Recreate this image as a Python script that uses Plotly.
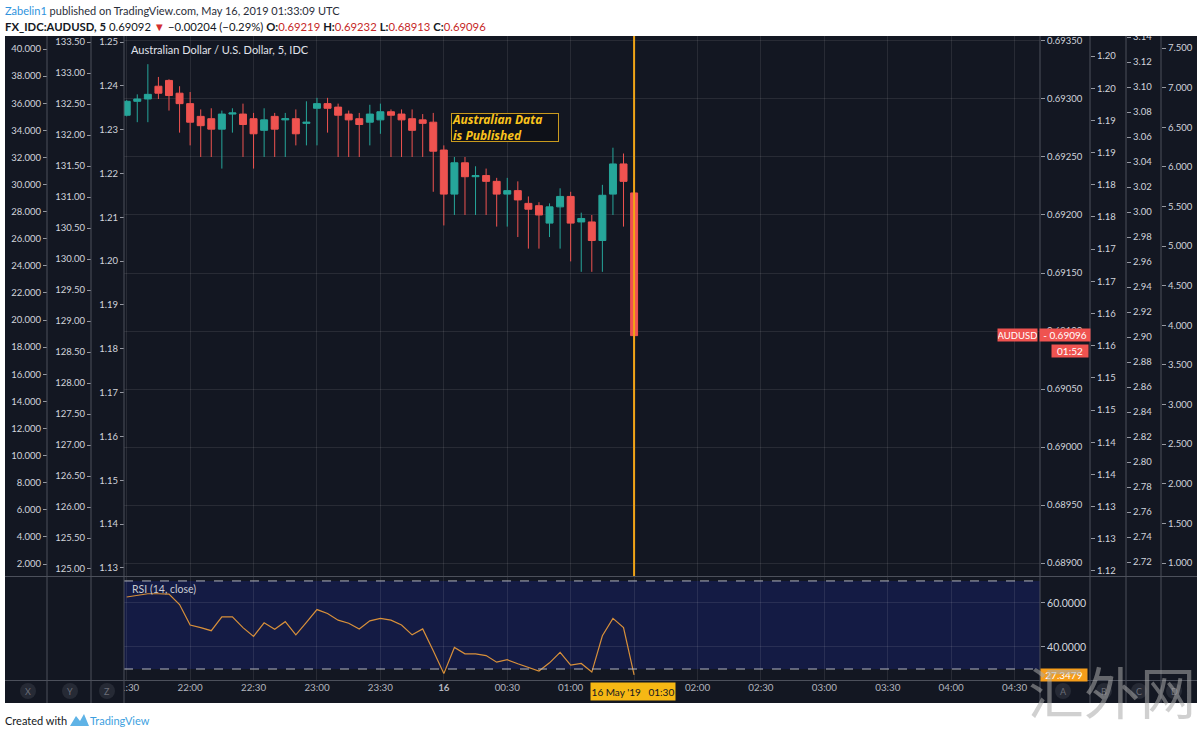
import plotly.graph_objects as go
import pandas as pd

W, H = 1199, 735


def px(x):
    return x / W


def py(y):
    return 1 - y / H


# ---------------- data ----------------
times = list(pd.date_range("2019-05-15 21:30", periods=49, freq="5min"))

opens = [0.69286, 0.69298, 0.69300, 0.69311, 0.69316, 0.69305, 0.69296, 0.69285, 0.69283, 0.69274,
         0.69287, 0.69287, 0.69283, 0.69273, 0.69285, 0.69282, 0.69283, 0.69279, 0.69292, 0.69296,
         0.69293, 0.69287, 0.69283, 0.69280, 0.69282, 0.69289, 0.69287, 0.69283, 0.69282, 0.69280,
         0.69256, 0.69218, 0.69245, 0.69233, 0.69234, 0.69229, 0.69218, 0.69221, 0.69210, 0.69208,
         0.69193, 0.69207, 0.69216, 0.69194, 0.69194, 0.69178, 0.69218, 0.69244, 0.69219]
highs = [0.69299, 0.69304, 0.69330, 0.69319, 0.69317, 0.69311, 0.69306, 0.69291, 0.69292, 0.69290,
         0.69292, 0.69296, 0.69288, 0.69292, 0.69288, 0.69288, 0.69291, 0.69298, 0.69301, 0.69301,
         0.69296, 0.69290, 0.69288, 0.69295, 0.69296, 0.69291, 0.69291, 0.69291, 0.69287, 0.69288,
         0.69260, 0.69250, 0.69250, 0.69242, 0.69240, 0.69232, 0.69232, 0.69229, 0.69216, 0.69211,
         0.69210, 0.69223, 0.69220, 0.69202, 0.69200, 0.69226, 0.69258, 0.69253, 0.69232]
lows = [0.69285, 0.69280, 0.69280, 0.69300, 0.69290, 0.69271, 0.69260, 0.69250, 0.69250, 0.69240,
        0.69271, 0.69250, 0.69240, 0.69250, 0.69250, 0.69250, 0.69260, 0.69260, 0.69260, 0.69271,
        0.69250, 0.69250, 0.69250, 0.69260, 0.69270, 0.69250, 0.69250, 0.69250, 0.69250, 0.69220,
        0.69191, 0.69200, 0.69200, 0.69200, 0.69200, 0.69190, 0.69190, 0.69181, 0.69171, 0.69171,
        0.69181, 0.69171, 0.69160, 0.69151, 0.69151, 0.69151, 0.69200, 0.69190, 0.68913]
closes = [0.69298, 0.69300, 0.69304, 0.69305, 0.69303, 0.69296, 0.69280, 0.69277, 0.69274, 0.69287,
          0.69288, 0.69278, 0.69270, 0.69282, 0.69274, 0.69283, 0.69270, 0.69280, 0.69296, 0.69292,
          0.69286, 0.69282, 0.69278, 0.69287, 0.69289, 0.69286, 0.69282, 0.69273, 0.69279, 0.69255,
          0.69218, 0.69245, 0.69233, 0.69234, 0.69229, 0.69218, 0.69221, 0.69213, 0.69205, 0.69200,
          0.69207, 0.69216, 0.69193, 0.69197, 0.69178, 0.69217, 0.69244, 0.69229, 0.69096]
rsi = [62.7, 63.5, 64.2, 64.2, 64.0, 59.3, 50.0, 48.8, 47.4, 53.7,
       53.7, 48.8, 44.8, 51.0, 48.1, 51.5, 45.5, 51.2, 57.0, 55.2,
       52.2, 50.8, 48.2, 51.9, 53.0, 52.2, 50.0, 45.5, 48.2, 38.3,
       27.9, 39.8, 36.9, 36.9, 36.1, 33.1, 34.2, 32.4, 30.6, 29.1,
       32.8, 37.6, 31.8, 32.5, 28.6, 45.1, 53.0, 48.8, 27.3479]

rsi_upper, rsi_lower = 70, 30
crosshair_time = "2019-05-16 01:30"

time_ticks = ["2019-05-15 21:30", "2019-05-15 22:00", "2019-05-15 22:30", "2019-05-15 23:00",
              "2019-05-15 23:30", "2019-05-16 00:00", "2019-05-16 00:30", "2019-05-16 01:00",
              "2019-05-16 01:30", "2019-05-16 02:00", "2019-05-16 02:30", "2019-05-16 03:00",
              "2019-05-16 03:30", "2019-05-16 04:00", "2019-05-16 04:30"]
time_labels = ["21:30", "22:00", "22:30", "23:00", "23:30", "<b>16</b>", "00:30", "01:00",
               "01:30", "02:00", "02:30", "03:00", "03:30", "04:00", "04:30"]
x_range = ["2019-05-15 21:28:43", "2019-05-16 04:42:00"]

price_ticks = [0.68900, 0.68950, 0.69000, 0.69050, 0.69100, 0.69150, 0.69200, 0.69250, 0.69300, 0.69350]
price_labels = ["0.68900", "0.68950", "0.69000", "0.69050", "0.69100", "0.69150", "0.69200",
                "0.69250", "0.69300", "0.69350"]
price_range = [0.688888, 0.693543]

rsi_ticks = [40, 60]
rsi_labels = ["40.0000", "60.0000"]
rsi_range = [25.0, 71.8]

a_ticks = [2, 4, 6, 8, 10, 12, 14, 16, 18, 20, 22, 24, 26, 28, 30, 32, 34, 36, 38, 40]
a_labels = ["2.000", "4.000", "6.000", "8.000", "10.000", "12.000", "14.000", "16.000", "18.000",
            "20.000", "22.000", "24.000", "26.000", "28.000", "30.000", "32.000", "34.000",
            "36.000", "38.000", "40.000"]
a_range = [1.1146, 40.959]

b_ticks = [125.0, 125.5, 126.0, 126.5, 127.0, 127.5, 128.0, 128.5, 129.0, 129.5, 130.0, 130.5,
           131.0, 131.5, 132.0, 132.5, 133.0, 133.5]
b_labels = ["125.00", "125.50", "126.00", "126.50", "127.00", "127.50", "128.00", "128.50",
            "129.00", "129.50", "130.00", "130.50", "131.00", "131.50", "132.00", "132.50",
            "133.00", "133.50"]
b_range = [124.887, 133.597]

c_ticks = [1.13, 1.14, 1.15, 1.16, 1.17, 1.18, 1.19, 1.20, 1.21, 1.22, 1.23, 1.24, 1.25]
c_labels = ["1.13", "1.14", "1.15", "1.16", "1.17", "1.18", "1.19", "1.20", "1.21", "1.22",
            "1.23", "1.24", "1.25"]
c_range = [1.12817, 1.25137]

e_ticks = [1.120, 1.125, 1.130, 1.135, 1.140, 1.145, 1.150, 1.155, 1.160, 1.165, 1.170, 1.175,
           1.180, 1.185, 1.190, 1.195, 1.200]
e_labels = ["1.12", "1.13", "1.13", "1.14", "1.14", "1.15", "1.15", "1.16", "1.16", "1.17",
            "1.17", "1.18", "1.18", "1.19", "1.19", "1.20", "1.20"]
e_range = [1.11922, 1.20311]

f_ticks = [2.72, 2.74, 2.76, 2.78, 2.80, 2.82, 2.84, 2.86, 2.88, 2.90, 2.92, 2.94, 2.96, 2.98,
           3.00, 3.02, 3.04, 3.06, 3.08, 3.10, 3.12, 3.14]
f_labels = ["2.72", "2.74", "2.76", "2.78", "2.80", "2.82", "2.84", "2.86", "2.88", "2.90",
            "2.92", "2.94", "2.96", "2.98", "3.00", "3.02", "3.04", "3.06", "3.08", "3.10",
            "3.12", "3.14"]
f_range = [2.7088, 3.1408]

g_ticks = [1.0, 1.5, 2.0, 2.5, 3.0, 3.5, 4.0, 4.5, 5.0, 5.5, 6.0, 6.5, 7.0, 7.5]
g_labels = ["1.000", "1.500", "2.000", "2.500", "3.000", "3.500", "4.000", "4.500", "5.000",
            "5.500", "6.000", "6.500", "7.000", "7.500"]
g_range = [0.8359, 7.6515]

# ---------------- style ----------------
BG = "#131722"
TEAL = "#26a69a"
RED = "#ef5350"
GRID = "rgba(255,255,255,0.09)"
SEP = "#4c505b"
TXT = "#d1d4dc"
FONT = "Lato, 'Noto Sans', sans-serif"
RSI_COLOR = "#d8903a"
CROSS = "#f0a417"
BAND = "#141b44"

fig = go.Figure()
fig.add_trace(go.Candlestick(
    x=times, open=opens, high=highs, low=lows, close=closes,
    increasing=dict(line=dict(color=TEAL, width=1), fillcolor=TEAL),
    decreasing=dict(line=dict(color=RED, width=1), fillcolor=RED),
    whiskerwidth=0, xaxis="x", yaxis="y", showlegend=False, hoverinfo="skip"))
fig.add_trace(go.Scatter(x=times, y=rsi, mode="lines", line=dict(color=RSI_COLOR, width=1.2),
                         xaxis="x2", yaxis="y2", showlegend=False, hoverinfo="skip"))
for ax in ["y3", "y4", "y5", "y6", "y7", "y8"]:
    fig.add_trace(go.Scatter(x=[], y=[], xaxis="x", yaxis=ax, showlegend=False, hoverinfo="skip"))

main_dom = [py(576), py(36)]
rsi_dom = [py(680), py(577)]
xdom = [px(124), px(1040)]
tickfont = dict(family=FONT, size=9.5, color=TXT)


def side_axis(rng, vals, labels, side, pos):
    return dict(overlaying="y", anchor="free", position=pos, side=side, range=rng,
                tickmode="array", tickvals=vals, ticktext=labels, ticks="outside", ticklen=4,
                tickcolor="#9598a1", showgrid=False, zeroline=False, showline=False,
                tickfont=tickfont, fixedrange=True, automargin=False)


fig.update_layout(
    width=W, height=H, margin=dict(l=0, r=0, t=0, b=0, pad=0, autoexpand=False),
    paper_bgcolor="white", plot_bgcolor=BG, showlegend=False,
    boxgap=0.34, boxgroupgap=0, hovermode=False,
    xaxis=dict(domain=xdom, anchor="y", range=x_range, type="date", tickmode="array",
               tickvals=time_ticks, showticklabels=False, showgrid=True, gridcolor=GRID,
               gridwidth=1, zeroline=False, ticks="", rangeslider=dict(visible=False),
               automargin=False),
    xaxis2=dict(domain=xdom, anchor="y2", range=x_range, type="date", tickmode="array",
                tickvals=time_ticks, ticktext=time_labels, showgrid=True, gridcolor=GRID,
                zeroline=False, ticks="", automargin=False,
                tickfont=dict(family=FONT, size=9.8, color="#b2b5be")),
    yaxis=dict(domain=main_dom, anchor="x", side="right", range=price_range, tickmode="array",
               tickvals=price_ticks, ticktext=price_labels, ticks="outside", ticklen=4,
               tickcolor="#9598a1", showgrid=True, gridcolor=GRID, zeroline=False,
               tickfont=tickfont, automargin=False),
    yaxis2=dict(domain=rsi_dom, anchor="x2", side="right", range=rsi_range, tickmode="array",
                tickvals=rsi_ticks, ticktext=rsi_labels, ticks="outside", ticklen=4,
                tickcolor="#9598a1", showgrid=True, gridcolor=GRID, zeroline=False,
                tickfont=dict(family=FONT, size=10.5, color=TXT), automargin=False),
    yaxis3=side_axis(a_range, a_ticks, a_labels, "left", px(47)),
    yaxis4=side_axis(b_range, b_ticks, b_labels, "left", px(91)),
    yaxis5=side_axis(c_range, c_ticks, c_labels, "left", px(124)),
    yaxis6=side_axis(e_range, e_ticks, e_labels, "right", px(1090)),
    yaxis7=side_axis(f_range, f_ticks, f_labels, "right", px(1126)),
    yaxis8=side_axis(g_range, g_ticks, g_labels, "right", px(1161)),
)

shapes = []
# dark chart body
shapes.append(dict(type="rect", xref="paper", yref="paper", x0=px(5), x1=px(1197), y0=py(703),
                   y1=py(36), fillcolor=BG, line=dict(width=0), layer="below"))
# RSI band and bounds
shapes.append(dict(type="rect", xref="x2 domain", yref="y2", x0=0, x1=1, y0=rsi_lower, y1=rsi_upper,
                   fillcolor=BAND, line=dict(width=0), layer="below"))
for lvl in [rsi_upper, rsi_lower]:
    shapes.append(dict(type="line", xref="x2 domain", yref="y2", x0=0, x1=1, y0=lvl, y1=lvl,
                       line=dict(color="#b2b5be", width=1, dash="dash"), layer="above"))
# header white cover (clips labels overflowing the top)
shapes.append(dict(type="rect", xref="paper", yref="paper", x0=0, x1=1, y0=py(36), y1=1,
                   fillcolor="white", line=dict(width=0), layer="above"))
# bottom-left cover (clips the first time label)
shapes.append(dict(type="rect", xref="paper", yref="paper", x0=px(5), x1=px(124), y0=py(703),
                   y1=py(681), fillcolor=BG, line=dict(width=0), layer="above"))
# column separators
for xs in [47, 91, 124, 1040, 1090, 1126, 1161]:
    shapes.append(dict(type="line", xref="paper", yref="paper", x0=px(xs), x1=px(xs), y0=py(703),
                       y1=py(36), line=dict(color=SEP, width=1), layer="above"))
for ys in [576.5, 680.5]:
    shapes.append(dict(type="line", xref="paper", yref="paper", x0=px(5), x1=px(1197), y0=py(ys),
                       y1=py(ys), line=dict(color=SEP, width=1), layer="above"))
# crosshair
shapes.append(dict(type="line", xref="x", yref="paper", x0=crosshair_time, x1=crosshair_time,
                   y0=py(576), y1=py(36), line=dict(color=CROSS, width=2), layer="above"))
# round buttons
buttons = [("X", 28), ("Y", 70), ("Z", 107), ("A", 1063), ("B", 1104), ("C", 1139), ("D", 1174)]
for _, cx in buttons:
    shapes.append(dict(type="circle", xref="paper", yref="paper", x0=px(cx - 8), x1=px(cx + 8),
                       y0=py(699), y1=py(683), fillcolor="#262a35", line=dict(width=0),
                       layer="above"))
# TradingView logo mark
shapes.append(dict(type="path", xref="paper", yref="paper",
                   path=f"M {px(70)} {py(726)} L {px(76)} {py(716)} L {px(80)} {py(721)} "
                        f"L {px(84)} {py(714)} L {px(89)} {py(726)} Z",
                   fillcolor="#5fb3e6", line=dict(width=0), layer="above"))

ann = []


def text(x, y, t, size=11, color=TXT, xanchor="left", family=FONT, **kw):
    ann.append(dict(x=px(x), y=py(y), xref="paper", yref="paper", text=t, showarrow=False,
                    xanchor=xanchor, yanchor="middle", font=dict(family=family, size=size,
                                                                  color=color), **kw))


# header
text(3, 11, "<span style='color:#2f93dd'>Zabelin1</span> published on TradingView.com, "
            "May 16, 2019 01:33:09 UTC", size=11, color="#2a2e39")
text(3, 27, "<b>FX_IDC:AUDUSD, 5</b> 0.69092 <span style='color:#d32f2f'>▼</span> "
            "−0.00204 (−0.29%) <b>O:</b><span style='color:#c62828'>0.69219</span> "
            "<b>H:</b><span style='color:#c62828'>0.69232</span> "
            "<b>L:</b><span style='color:#c62828'>0.68913</span> "
            "<b>C:</b><span style='color:#c62828'>0.69096</span>", size=11.3, color="#131722")
# pane titles
text(129, 50, "Australian Dollar / U.S. Dollar, 5, IDC", size=11, color="#e0e3eb")
text(130, 589, "RSI (14, close)", size=10.5, color="#c8cbd3")
# event note
ann.append(dict(x=px(505), y=py(127.5), xref="paper", yref="paper",
                text="<b><i>Australian Data<br>is Published</i></b>", showarrow=False,
                xanchor="center", yanchor="middle", align="left",
                font=dict(family="'Noto Sans', sans-serif", size=12, color="#f9c31c"),
                bgcolor="#0e1118", bordercolor="#c99a1e", borderwidth=1, borderpad=0,
                width=106, height=27))
# price labels
ann.append(dict(x=px(1017.5), y=py(335), xref="paper", yref="paper", text="AUDUSD",
                showarrow=False, xanchor="center", yanchor="middle", bgcolor=RED,
                font=dict(family=FONT, size=9.5, color="white"), width=39, height=12, borderpad=0))
ann.append(dict(x=px(1065), y=py(335), xref="paper", yref="paper", text="- 0.69096",
                showarrow=False, xanchor="center", yanchor="middle", bgcolor=RED,
                font=dict(family=FONT, size=10, color="white"), width=50, height=12, borderpad=0))
ann.append(dict(x=px(1070), y=py(350.5), xref="paper", yref="paper", text="01:52",
                showarrow=False, xanchor="center", yanchor="middle", bgcolor=RED,
                font=dict(family=FONT, size=10, color="white"), width=36, height=12, borderpad=0))
ann.append(dict(x=px(1064), y=py(675), xref="paper", yref="paper", text="27.3479",
                showarrow=False, xanchor="center", yanchor="middle", bgcolor="#f59d1a",
                font=dict(family=FONT, size=10, color="white"), width=46, height=12, borderpad=0))
ann.append(dict(x=px(633), y=py(691), xref="paper", yref="paper",
                text="16 May '19&nbsp;&nbsp;&nbsp;01:30", showarrow=False, xanchor="center",
                yanchor="middle", bgcolor="#f6b814",
                font=dict(family=FONT, size=10, color="#131722"), width=84, height=17,
                borderpad=0))
for letter, cx in buttons:
    text(cx, 691, letter, size=9, color="#6a6d78", xanchor="center")
# footer
text(3, 720, "Created with", size=11, color="#131722")
text(88, 720, "TradingView", size=11, color="#3d9fe0")
# watermark
ann.append(dict(x=px(1112), y=py(689), xref="paper", yref="paper", text="汇外网",
                showarrow=False, xanchor="center", yanchor="middle",
                font=dict(family="Noto Sans CJK SC", size=56, color="rgba(170,170,170,0.55)")))

fig.update_layout(shapes=shapes, annotations=ann)
fig.write_html("out.html")
